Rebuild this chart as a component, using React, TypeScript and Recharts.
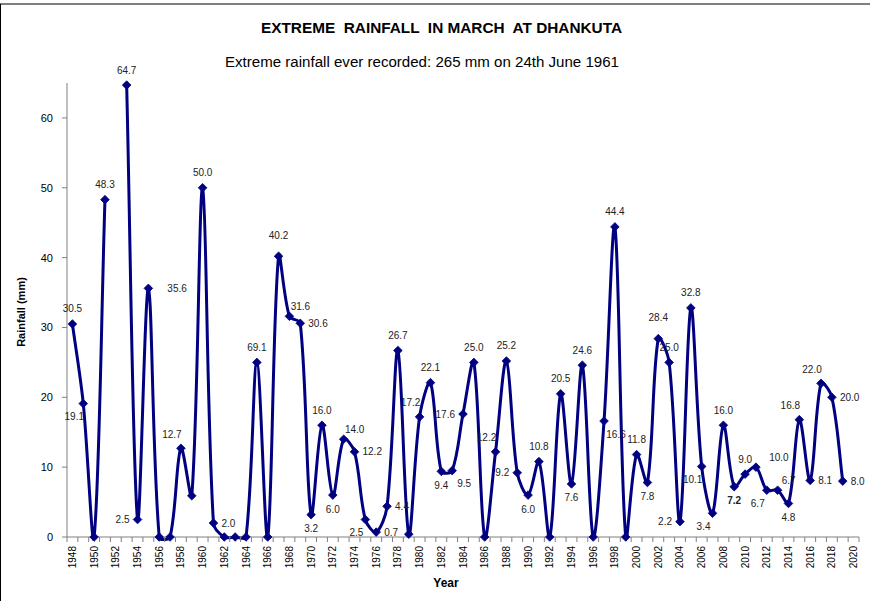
import React from 'react';
import { LineChart, Line, XAxis, YAxis, LabelList } from 'recharts';

// ---- data ----
const years: number[] = [
  1948, 1949, 1950, 1951, 1952, 1953, 1954, 1955, 1956, 1957, 1958, 1959,
  1960, 1961, 1962, 1963, 1964, 1965, 1966, 1967, 1968, 1969, 1970, 1971,
  1972, 1973, 1974, 1975, 1976, 1977, 1978, 1979, 1980, 1981, 1982, 1983,
  1984, 1985, 1986, 1987, 1988, 1989, 1990, 1991, 1992, 1993, 1994, 1995,
  1996, 1997, 1998, 1999, 2000, 2001, 2002, 2003, 2004, 2005, 2006, 2007,
  2008, 2009, 2010, 2011, 2012, 2013, 2014, 2015, 2016, 2017, 2018, 2019,
];

const rainfall: (number | null)[] = [
  30.5, 19.1, 0, 48.3, null, 64.7, 2.5, 35.6, 0, 0, 12.7, 5.9,
  50.0, 2.0, 0, 0, 0, 25.0, 0, 40.2, 31.6, 30.6, 3.2, 16.0,
  6.0, 14.0, 12.2, 2.5, 0.7, 4.4, 26.7, 0.4, 17.2, 22.1, 9.4, 9.5,
  17.6, 25.0, 0, 12.2, 25.2, 9.2, 6.0, 10.8, 0, 20.5, 7.6, 24.6,
  0, 16.6, 44.4, 0, 11.8, 7.8, 28.4, 25.0, 2.2, 32.8, 10.1, 3.4,
  16.0, 7.2, 9.0, 10.0, 6.7, 6.7, 4.8, 16.8, 8.1, 22.0, 20.0, 8.0,
];

// data-label texts as printed on the chart ('' = no label)
const labelTexts: string[] = [
  '30.5', '19.1', '', '48.3', '', '64.7', '2.5', '35.6', '', '', '12.7', '',
  '50.0', '2.0', '', '', '', '69.1', '', '40.2', '31.6', '30.6', '3.2', '16.0',
  '6.0', '14.0', '12.2', '2.5', '0.7', '4.4', '26.7', '', '17.2', '22.1', '9.4', '9.5',
  '17.6', '25.0', '', '12.2', '25.2', '9.2', '6.0', '10.8', '', '20.5', '7.6', '24.6',
  '', '16.6', '44.4', '', '11.8', '7.8', '28.4', '25.0', '2.2', '32.8', '10.1', '3.4',
  '16.0', '7.2', '9.0', '10.0', '6.7', '6.7', '4.8', '16.8', '8.1', '22.0', '20.0', '8.0',
];

// label placement codes (style)
const labelPlacement: string[] = [
  'T', 'BL', '', 'T', '', 'T', 'L', 'FR', '', '', 'TL', '',
  'T', 'R', '', '', '', 'T', '', 'TT', 'TR', 'R', 'B', 'T',
  'B', 'TR', 'R', 'BL', 'R', 'R', 'T', '', 'TL', 'T', 'B', 'BR',
  'L', 'T', '', 'TL', 'T', 'L', 'B', 'T', '', 'T', 'B', 'T',
  '', 'BR', 'T', '', 'T', 'B', 'TT', 'T', 'L', 'T', 'BL', 'BL',
  'T', 'B', 'T', 'XR', 'BL', 'TR', 'B', 'TL', 'R', 'TL', 'R', 'R',
];

const boldLabelYears: number[] = [2009];

const yTicks: number[] = [0, 10, 20, 30, 40, 50, 60];
const xLabelYears: number[] = [
  1948, 1950, 1952, 1954, 1956, 1958, 1960, 1962, 1964, 1966, 1968, 1970,
  1972, 1974, 1976, 1978, 1980, 1982, 1984, 1986, 1988, 1990, 1992, 1994,
  1996, 1998, 2000, 2002, 2004, 2006, 2008, 2010, 2012, 2014, 2016, 2018, 2020,
];
const firstYear = 1948;
const lastYear = 2020;

const TITLE = 'EXTREME  RAINFALL  IN MARCH  AT DHANKUTA';
const SUBTITLE = 'Extreme rainfall ever recorded: 265 mm on 24th June 1961';

// ---- derived table ----
const data = years.map((yr, i) => ({
  year: yr,
  rain: rainfall[i],
  label: labelTexts[i],
}));

// category boundaries (tick marks) + labelled years
const boundaryTicks: number[] = [];
for (let y = firstYear; y <= lastYear + 1; y++) boundaryTicks.push(y - 0.5);
const xTicks = [...boundaryTicks, ...xLabelYears].sort((a, b) => a - b);

const FONT = '"Liberation Sans", Arial, sans-serif';
const NAVY = '#000080';
const AXIS = '#808080';

const dist = (a: number[], b: number[]) => Math.hypot(a[0] - b[0], a[1] - b[1]);

// Excel-like smoothed line (chord-weighted bezier)
const excelSmooth = (context: any) => {
  let pts: number[][] = [];
  return {
    areaStart() {},
    areaEnd() {},
    lineStart() {
      pts = [];
    },
    point(x: number, y: number) {
      pts.push([+x, +y]);
    },
    lineEnd() {
      const n = pts.length;
      if (!n) return;
      context.moveTo(pts[0][0], pts[0][1]);
      for (let i = 0; i < n - 1; i++) {
        const p0 = pts[Math.max(i - 1, 0)];
        const p1 = pts[i];
        const p2 = pts[i + 1];
        const p3 = pts[Math.min(i + 2, n - 1)];
        const d01 = dist(p0, p1);
        const d12 = dist(p1, p2);
        const d23 = dist(p2, p3);
        const w1 = d01 + d12 > 0 ? d12 / (d01 + d12) / 3 : 0;
        const w2 = d12 + d23 > 0 ? d12 / (d12 + d23) / 3 : 0;
        context.bezierCurveTo(
          p1[0] + (p2[0] - p0[0]) * w1,
          p1[1] + (p2[1] - p0[1]) * w1,
          p2[0] - (p3[0] - p1[0]) * w2,
          p2[1] - (p3[1] - p1[1]) * w2,
          p2[0],
          p2[1]
        );
      }
    },
  };
};

const placements: Record<string, { dx: number; dy: number; anchor: string }> = {
  T: { dx: 0, dy: -15, anchor: 'middle' },
  TT: { dx: 0, dy: -21, anchor: 'middle' },
  B: { dx: 0, dy: 14, anchor: 'middle' },
  TL: { dx: -9, dy: -14, anchor: 'middle' },
  TR: { dx: 11, dy: -10, anchor: 'middle' },
  BL: { dx: -9, dy: 13, anchor: 'middle' },
  BR: { dx: 12, dy: 13, anchor: 'middle' },
  L: { dx: -8, dy: 0, anchor: 'end' },
  R: { dx: 8, dy: 0, anchor: 'start' },
  FR: { dx: 19, dy: 0, anchor: 'start' },
  XR: { dx: 23, dy: -10, anchor: 'middle' },
};

const renderLabel = (props: any) => {
  const { index, value } = props;
  if (!value) return null;
  const x = props.x ?? props.viewBox?.x;
  const y = props.y ?? props.viewBox?.y;
  if (x == null || y == null) return null;
  const p = placements[labelPlacement[index]] || placements.T;
  const bold = boldLabelYears.includes(years[index]);
  return (
    <text
      key={`lbl-${index}`}
      x={x + p.dx}
      y={y + p.dy}
      textAnchor={p.anchor as any}
      dominantBaseline="central"
      fontSize={10}
      fontFamily={FONT}
      fontWeight={bold ? 'bold' : 'normal'}
      fill="#222"
    >
      {value}
    </text>
  );
};

const renderDot = (props: any) => {
  const { cx, cy, index } = props;
  if (cx == null || cy == null || isNaN(cy)) return <g key={`d-${index}`} />;
  const r = 4.3;
  return (
    <path
      key={`d-${index}`}
      d={`M${cx},${cy - r}L${cx + r},${cy}L${cx},${cy + r}L${cx - r},${cy}Z`}
      fill={NAVY}
      stroke={NAVY}
      strokeWidth={0.8}
    />
  );
};

const XTick = (props: any) => {
  const { x, y, payload } = props;
  const v = payload.value;
  if (!Number.isInteger(v)) {
    return <line x1={x} x2={x} y1={y} y2={y + 5} stroke={AXIS} strokeWidth={1} />;
  }
  return (
    <text
      transform={`translate(${x},${y + 9}) rotate(-90)`}
      textAnchor="end"
      dominantBaseline="central"
      fontSize={10}
      fontFamily={FONT}
      fill="#000"
    >
      {v}
    </text>
  );
};

export default function App() {
  return (
    <div style={{ position: 'absolute', left: 0, top: 0, width: 870, height: 601, background: '#fff' }}>
      <LineChart
        width={870}
        height={601}
        data={data}
        margin={{ top: 83, right: 11, bottom: 0, left: 0 }}
      >
        <XAxis
          dataKey="year"
          type="number"
          domain={[firstYear - 0.5, lastYear + 0.5]}
          ticks={xTicks}
          interval={0}
          tickSize={0}
          tickMargin={0}
          tickLine={false}
          tick={<XTick />}
          height={64}
          axisLine={{ stroke: AXIS, strokeWidth: 1 }}
          allowDecimals
        />
        <YAxis
          type="number"
          domain={[0, 65]}
          ticks={yTicks}
          interval={0}
          width={67}
          tickSize={5}
          tickMargin={9}
          axisLine={{ stroke: AXIS, strokeWidth: 1 }}
          tickLine={{ stroke: AXIS }}
          tick={{ fontSize: 11, fill: '#000', fontFamily: FONT }}
        />
        <Line
          dataKey="rain"
          type={excelSmooth as any}
          stroke={NAVY}
          strokeWidth={3}
          dot={renderDot}
          activeDot={false}
          connectNulls={false}
          isAnimationActive={false}
        >
          <LabelList dataKey="label" content={renderLabel} />
        </Line>
      </LineChart>
      <svg
        width={870}
        height={601}
        style={{ position: 'absolute', left: 0, top: 0, pointerEvents: 'none' }}
      >
        <line x1={0} x2={870} y1={4} y2={4} stroke="#555" strokeWidth={1.5} />
        <line x1={0.5} x2={0.5} y1={4} y2={601} stroke="#000" strokeWidth={1} />
        <text
          x={441.5}
          y={27}
          textAnchor="middle"
          dominantBaseline="central"
          fontSize={15}
          fontWeight="bold"
          fontFamily={FONT}
          textLength={361}
          lengthAdjust="spacingAndGlyphs"
          style={{ whiteSpace: 'pre' }}
        >
          {TITLE}
        </text>
        <text
          x={422}
          y={62}
          textAnchor="middle"
          dominantBaseline="central"
          fontSize={14}
          fontFamily={FONT}
          textLength={394}
          lengthAdjust="spacingAndGlyphs"
        >
          {SUBTITLE}
        </text>
        <text
          transform="translate(21,312) rotate(-90)"
          textAnchor="middle"
          dominantBaseline="central"
          fontSize={11}
          fontWeight="bold"
          fontFamily={FONT}
        >
          Rainfall (mm)
        </text>
        <text
          x={446}
          y={583}
          textAnchor="middle"
          dominantBaseline="central"
          fontSize={12}
          fontWeight="bold"
          fontFamily={FONT}
        >
          Year
        </text>
      </svg>
    </div>
  );
}
